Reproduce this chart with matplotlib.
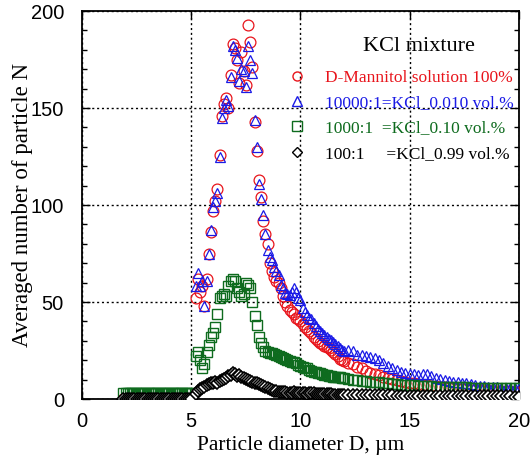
import matplotlib
matplotlib.use("Agg")
import matplotlib.pyplot as plt

# ---------------- data ----------------
diam_low = [1.9, 2.0, 2.1, 2.2, 2.3, 2.4, 2.5, 2.6, 2.7, 2.8, 2.9, 3.0, 3.1, 3.2, 3.3, 3.4,
            3.5, 3.6, 3.7, 3.8, 3.9, 4.0, 4.1, 4.2, 4.3, 4.4, 4.5, 4.6, 4.7, 4.8, 4.9, 5.0]
diam_mid = [5.2, 5.3, 5.4, 5.5, 5.6, 5.7, 5.8, 5.9, 6.0, 6.1, 6.2, 6.3, 6.4, 6.5, 6.6, 6.7,
            6.8, 6.9, 7.0, 7.1, 7.2, 7.3, 7.4, 7.5, 7.6, 7.7, 7.8, 7.9, 8.0, 8.1, 8.2, 8.3,
            8.4, 8.5, 8.6, 8.7, 8.8, 8.9, 9.0, 9.1, 9.2, 9.3, 9.4, 9.5, 9.6, 9.7, 9.8, 9.9,
            10.0, 10.1, 10.2, 10.3, 10.4, 10.5, 10.6, 10.7, 10.8, 10.9, 11.0, 11.1, 11.2,
            11.3, 11.4, 11.5, 11.6, 11.7, 11.8, 11.9, 12.0]
diam_tail = [12.2, 12.4, 12.6, 12.8, 13.0, 13.2, 13.4, 13.6, 13.8, 14.0, 14.2, 14.4, 14.6,
             14.8, 15.0, 15.2, 15.4, 15.6, 15.8, 16.0, 16.2, 16.4, 16.6, 16.8, 17.0, 17.2,
             17.4, 17.6, 17.8, 18.0, 18.2, 18.4, 18.6, 18.8, 19.0, 19.2, 19.4, 19.6, 19.8, 20.0]

mannitol_low = [0, 0, 0, 0, 0, 0, 0, 0, 0, 0, 0, 0, 0, 0, 0, 0,
                0, 0, 0, 0, 0, 0, 0, 0, 0, 0, 0, 0, 0, 0, 0, 0]
mannitol_mid = [52, 62, 55, 58, 48, 62, 75, 86, 97, 102, 108, 126, 146, 152, 155, 150,
                167, 183, 181, 175, 163, 179, 169, 162, 193, 184, 171, 143, 128, 113, 104, 92,
                85, 80, 70, 66, 63, 61, 60, 57, 53, 50, 48, 46, 45, 44, 42, 41,
                40, 38.5, 37, 36, 35, 34, 32, 31, 30, 29, 28.5, 27.5, 27,
                26.5, 25.5, 24, 23, 22, 20.5, 20, 19.5]
mannitol_tail = [18.5, 18, 16.6, 15.8, 14.5, 13.5, 13, 12.4, 11.5, 11, 10.5, 9.8, 9.3,
                 8.8, 8.5, 8, 7.6, 7.3, 7, 6.8, 6.5, 6.2, 6, 5.8, 5.6, 5.4,
                 5.2, 5, 4.9, 4.8, 4.6, 4.5, 4.4, 4.3, 4.2, 4.1, 4, 3.9, 3.8, 3.8]

kcl_0010_low = [0, 0, 0, 0, 0, 0, 0, 0, 0, 0, 0, 0, 0, 0, 0, 0,
                0, 0, 0, 0, 0, 0, 0, 0, 0, 0, 0, 0, 0, 0, 0, 0]
kcl_0010_mid = [58, 65, 58, 61, 48, 61, 75, 87, 99, 102, 106, 125, 145, 150, 154, 151,
                166, 182, 180, 176, 164, 170, 169, 161, 182, 175, 168, 144, 130, 111, 103, 95,
                85, 77, 73, 71.5, 68, 66, 64, 59, 57, 54.5, 54, 53.5, 55, 57, 55, 52,
                51, 47, 45, 43.5, 42, 41, 39, 37.5, 36, 35, 34, 33, 32,
                31, 30.4, 29.5, 28.5, 27.5, 26.5, 25.5, 25]
kcl_0010_tail = [25.3, 24.5, 22.7, 22.5, 22, 21.8, 21, 20, 18.5, 17, 16, 15, 14,
                 13.4, 13, 12.8, 12.5, 12.8, 13, 12, 11, 10.5, 10, 9.5, 9, 8.9,
                 8.5, 8, 7.5, 7, 6.8, 6.6, 6.4, 6.2, 6, 5.8, 5.7, 5.6, 5.5, 5.5]

kcl_010_low = [3, 3, 3, 3, 3, 3, 3, 3, 3, 3, 3, 3, 3, 3, 3, 3,
               3, 3, 3, 3, 3, 3, 3, 3, 3, 3, 3, 3, 3, 3, 3, 3]
kcl_010_mid = [22, 24, 20, 16, 18, 24, 28, 32, 34, 37, 44, 52, 53, 54, 53, 58,
               61, 62, 61, 57, 55, 53, 54, 60, 59, 57, 50, 43, 38, 32, 29, 27,
               25, 24, 23.5, 23.5, 23, 22.5, 22, 21.5, 21, 20.5, 20, 19.5, 19.2, 19, 18.5, 17.5,
               17, 16.5, 16, 15.8, 15, 14.5, 14, 13.8, 13.5, 13.2, 13, 12.5, 12.2,
               12, 11.8, 11.6, 11.5, 11.3, 11.2, 11, 10.8]
kcl_010_tail = [10.5, 10, 9.8, 9.5, 9.2, 9, 8.9, 8.6, 8.3, 8, 7.8, 7.6, 7.4,
                7.2, 7.1, 7, 6.9, 6.8, 6.7, 6.5, 6.4, 6.3, 6.2, 6.2, 6.1, 6,
                6, 6, 5.9, 5.9, 5.8, 5.8, 5.7, 5.7, 5.6, 5.6, 5.5, 5.5, 5.5, 5.5]

kcl_099_low = [0, 0, 0, 0, 0, 0, 0, 0, 0, 0, 0, 0, 0, 0, 0, 0,
               0, 0, 0, 0, 0, 0, 0, 0, 0, 0, 0, 0, 0, 0, 0, 0]
kcl_099_mid = [2.5, 4, 5, 5.5, 6, 7, 7.5, 8, 8.5, 9, 8.5, 9.5, 10, 10.5, 11, 12,
               12.5, 13.5, 13, 12, 12.5, 11.5, 11, 10.5, 10, 9.5, 9, 8.5, 8, 7.5, 7, 6.5,
               6, 5.5, 5, 4.5, 4.2, 4, 3.8, 3.6, 3.5, 3.4, 3.3, 3.3, 3.2, 3.4, 3.3, 3.2,
               3.1, 3.0, 2.9, 2.8, 3.0, 3.1, 2.9, 2.8, 2.7, 2.6, 2.6, 2.5, 2.5,
               2.4, 2.4, 2.3, 2.3, 2.3, 2.2, 2.2, 2.2]
kcl_099_tail = [2.2, 2.1, 2.1, 2.1, 2.0, 2.0, 2.0, 1.9, 1.9, 1.9, 1.9, 1.8, 1.8,
                1.8, 1.8, 1.7, 1.7, 1.7, 1.7, 1.6, 1.6, 1.6, 1.6, 1.5, 1.5, 1.5,
                1.5, 1.5, 1.4, 1.4, 1.4, 1.4, 1.4, 1.3, 1.3, 1.3, 1.3, 1.3, 1.2, 1.2]

labels = ["D-Mannitol solution 100%",
          "10000:1=KCl_0.010 vol.%",
          "1000:1  =KCl_0.10 vol.%",
          "100:1     =KCl_0.99 vol.%"]
colors = ["#e8141b", "#1a1ae6", "#0e6b1e", "#000000"]
markers = ["o", "^", "s", "D"]
x_ticks = [0, 5, 10, 15, 20]
y_ticks = [0, 50, 100, 150, 200]

# ---------------- plot ----------------
diam = diam_low + diam_mid + diam_tail
series = [mannitol_low + mannitol_mid + mannitol_tail,
          kcl_0010_low + kcl_0010_mid + kcl_0010_tail,
          kcl_010_low + kcl_010_mid + kcl_010_tail,
          kcl_099_low + kcl_099_mid + kcl_099_tail]

serif = ["Liberation Serif", "DejaVu Serif"]
sans = ["Liberation Sans", "DejaVu Sans"]

fig = plt.figure(figsize=(5.30, 4.57), dpi=100)
ax = fig.add_axes([0.1547, 0.1269, 0.8243, 0.8490])

sizes = [7.8, 7.6, 7.6, 6.2]
mews = [0.9, 0.9, 1.0, 1.2]
for i, (vals, lab, c, m) in enumerate(zip(series, labels, colors, markers)):
    ax.plot(diam, vals, linestyle="none", marker=m, markersize=sizes[i],
            markerfacecolor="white" if m == "D" else "none",
            markeredgecolor=c, markeredgewidth=mews[i], label=lab, zorder=3 + i)

ax.set_xlim(0, 20)
ax.set_ylim(0, 200)
ax.set_xticks(x_ticks)
ax.set_yticks(y_ticks)
ax.set_yticks(range(0, 201, 10), minor=True)
ax.tick_params(axis="both", which="both", direction="in", top=True, right=True,
               colors="black", width=1.0)
ax.tick_params(axis="both", which="major", length=6)
ax.tick_params(axis="y", which="minor", length=3.5)
ax.tick_params(axis="y", which="major", pad=13)
ax.tick_params(axis="x", which="major", pad=9)
for lab in ax.get_xticklabels() + ax.get_yticklabels():
    lab.set_family(sans)
    lab.set_fontsize(14.5)
for s in ax.spines.values():
    s.set_linewidth(1.3)

ax.grid(True, which="major", color="black", linestyle=(0, (1.5, 2.0)), linewidth=1.0)
ax.set_axisbelow(True)

ax.set_xlabel("Particle diameter D, \u00b5m", family=serif, fontsize=15.5, labelpad=4)
ax.set_ylabel("Averaged number of particle N", family=serif, fontsize=16.5, labelpad=-2)

ax.text(0.771, 0.908, "KCl mixture", transform=ax.transAxes, family=serif,
        fontsize=16, ha="center", va="center", zorder=10)

leg_handles = []
for c, m, lab in zip(colors, markers, labels):
    h, = ax.plot([], [], linestyle="none", marker=m, markersize=6.5 if m != "D" else 5.5,
                 markerfacecolor="none", markeredgecolor=c, markeredgewidth=1.0, label=lab)
    leg_handles.append(h)
leg = ax.legend(handles=leg_handles, loc="upper left", bbox_to_anchor=(0.468, 0.848),
                frameon=False, numpoints=1, handlelength=1.25, handletextpad=0.95,
                labelspacing=0.52, borderaxespad=0, borderpad=0,
                prop={"family": serif, "size": 12.5})
for t, c in zip(leg.get_texts(), colors):
    t.set_color(c)
leg.set_zorder(10)

fig.savefig("out.png", dpi=100)
